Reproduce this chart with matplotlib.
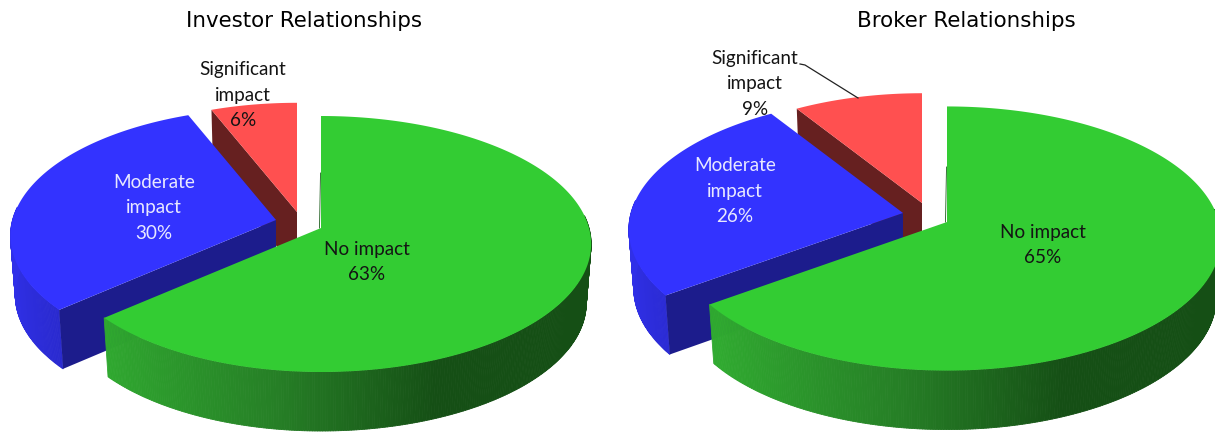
import numpy as np
import matplotlib
matplotlib.use('Agg')
import matplotlib.pyplot as plt
from matplotlib.collections import PolyCollection
from matplotlib.colors import to_rgb

# slices run clockwise from 12 o'clock
category_labels = ['No impact', 'Moderate\nimpact', 'Significant\nimpact']
investor_values = [63, 30, 6]
broker_values = [65, 26, 9]
chart_titles = ['Investor Relationships', 'Broker Relationships']

top_colors = ['#33cc33', '#3333ff', '#ff5050']
cut_colors = ['#1a6b1a', '#1c1c8c', '#662020']

# layout, all in image pixels
W, H = 1215, 433
DEPTH = 59
PERSP = 0.125
investor_pie = dict(cx=321, cy=228, R=268, S=126, squeeze=0.983,
                    shift=[(0, 0), (-45, -8), (-24, -16)], scale=[1, 1, 0.975],
                    label_xy=[(367, 262), (154, 208), (243, 95)], title_x=304)
broker_pie = dict(cx=947, cy=222, R=272, S=130, squeeze=1.0,
                  shift=[(0, 0), (-44, -9), (-25, -19)], scale=[1, 1, 0.95],
                  label_xy=[(1043, 245), (735, 191), (755, 84)], title_x=966)


def project(pie, i, ang, z=0):
    u = np.sin(np.radians(ang))
    v = np.cos(np.radians(ang))
    w = 1 + PERSP * v
    sx, sy = pie['shift'][i]
    k = pie['scale'][i]
    x = pie['R'] * k * u / w * np.where(u < 0, pie['squeeze'], 1) * (1 - 0.018 * z) + pie['cx'] + sx
    y = pie['cy'] + sy - pie['S'] * k * v / w + DEPTH * z
    return x, y


def side_color(i, u):
    if i == 0:  # green wall goes dark toward the right
        stops = [to_rgb('#30aa30'), to_rgb('#267f26'), to_rgb('#154f15')]
        pos = [-0.78, -0.15, 0.38]
    elif i == 1:
        stops = [to_rgb('#3030e8'), to_rgb('#2c2cd8'), to_rgb('#2626c4')]
        pos = [-1, -0.85, -0.65]
    else:
        stops = [to_rgb('#a03030')] * 2
        pos = [-1, 1]
    return tuple(np.interp(u, pos, [s[c] for s in stops]) for c in range(3))


def draw_slice(ax, pie, i, a0, a1):
    sx, sy = pie['shift'][i]
    ang = np.linspace(a0, a1, int(a1 - a0) * 2 + 2)
    x0, y0 = project(pie, i, ang)
    x1, y1 = project(pie, i, ang, 1)

    # outer wall, only where it faces the viewer
    quads, cols = [], []
    for j in range(len(ang) - 1):
        mid = (ang[j] + ang[j + 1]) / 2
        if np.cos(np.radians(mid)) > 0.1:
            continue
        quads.append([(x0[j], y0[j]), (x0[j + 1], y0[j + 1]), (x1[j + 1], y1[j + 1]), (x1[j], y1[j])])
        cols.append(side_color(i, np.sin(np.radians(mid))))
    if quads:
        ax.add_collection(PolyCollection(quads, facecolors=cols, edgecolors=cols, linewidths=0.6))

    ax_, ay_ = pie['cx'] + sx, pie['cy'] + sy
    if i > 0:  # cut face on the side that looks toward the viewer
        ax.fill([ax_, x0[0], x1[0], ax_], [ay_, y0[0], y1[0], ay_ + DEPTH], color=cut_colors[i], lw=0)

    ax.fill(np.r_[ax_, x0], np.r_[ay_, y0], color=top_colors[i], lw=0)


fig = plt.figure(figsize=(W / 100, H / 100), dpi=100)
ax = fig.add_axes([0, 0, 1, 1])
ax.set_xlim(0, W)
ax.set_ylim(H, 0)
ax.axis('off')

for pie, values, title in zip([investor_pie, broker_pie], [investor_values, broker_values], chart_titles):
    edges = np.r_[0, np.cumsum(values)] / sum(values) * 360
    for i in [2, 1, 0]:
        draw_slice(ax, pie, i, edges[i], edges[i + 1])
    # thin dark wall where the green slice starts
    ax.plot([pie['cx'] - 0.5, pie['cx'] - 1.5], [pie['cy'] - 55, pie['cy']], color='#1a5c1a', lw=0.6)
    ax.text(pie['title_x'], 21, title, ha='center', va='center', fontsize=15.4,
            family='DejaVu Sans', color='black')
    for i, (tx, ty) in enumerate(pie['label_xy']):
        col = '#e8e8ff' if i == 1 else '#141414'
        ax.text(tx, ty, f'{category_labels[i]}\n{values[i]}%', ha='center', va='center',
                fontsize=13.6, family='Lato', color=col, linespacing=1.6)

# leader line for the broker "Significant impact" label
ax.plot([800, 805, 858], [64, 65, 98], color='#222222', lw=0.9)

fig.savefig('out.png', dpi=100)
